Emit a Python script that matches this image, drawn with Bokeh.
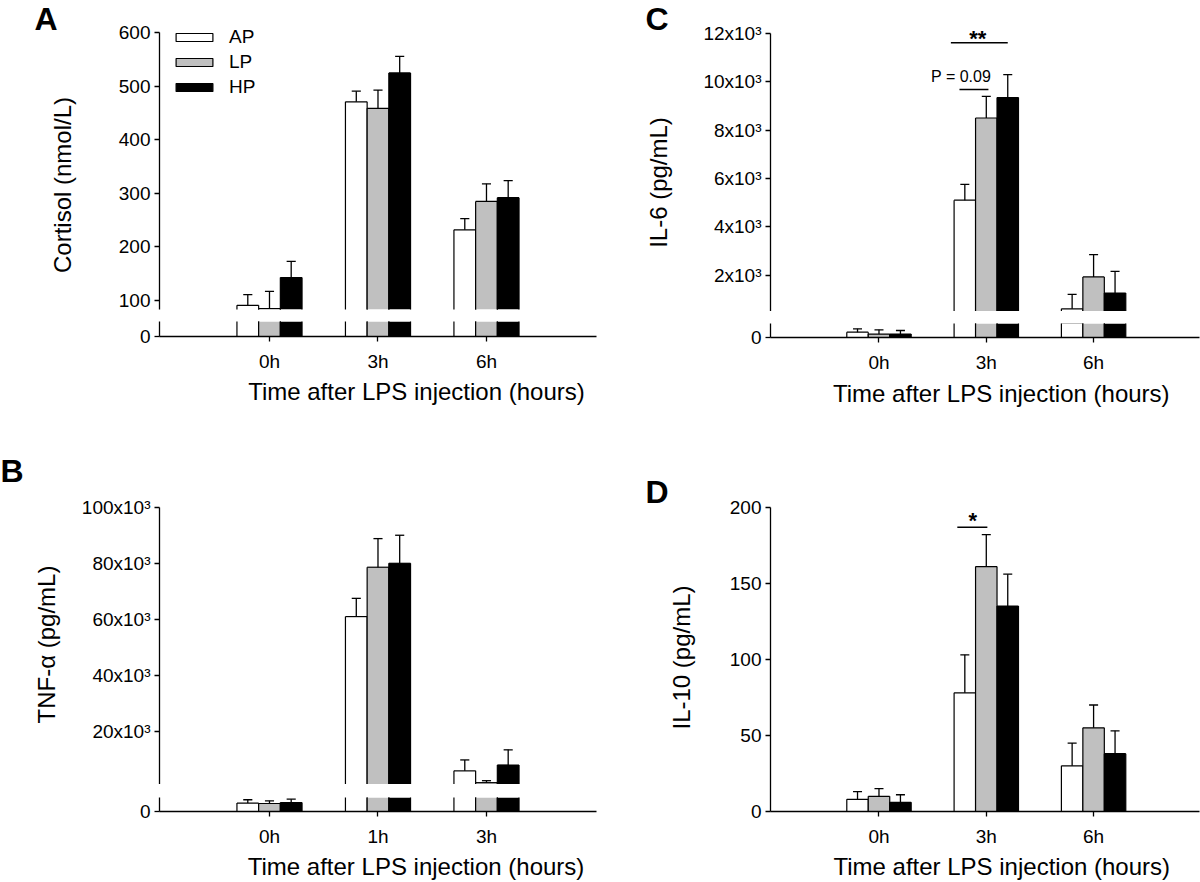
import math
from bokeh.plotting import figure
from bokeh.layouts import row, column
from bokeh.models import Range1d, FixedTicker, Legend, LegendItem, Spacer
from bokeh.core.properties import value
from bokeh.embed import file_html
from bokeh.resources import INLINE

FONT = "Liberation Sans"

# ---------------- data ----------------
groups = ["AP", "LP", "HP"]
group_colors = ["#ffffff", "#c0c0c0", "#000000"]
group_offsets = [-0.2, 0.0, 0.2]
cat_pos = [1, 2, 3]

# Panel A: Cortisol (nmol/L)
a_times = ["0h", "3h", "6h"]
a_ap = [91, 471, 232]
a_ap_err = [20, 20, 21]
a_lp = [85, 459, 285]
a_lp_err = [32, 34, 33]
a_hp = [143, 525, 292]
a_hp_err = [30, 31, 32]
a_yticks = [100, 200, 300, 400, 500, 600]

# Panel B: TNF-alpha (pg/mL)
b_times = ["0h", "1h", "3h"]
b_ap = [600, 61000, 6000]
b_ap_err = [240, 6500, 3900]
b_lp = [570, 78600, 1800]
b_lp_err = [190, 10200, 700]
b_hp = [640, 80000, 8100]
b_hp_err = [240, 10000, 5400]
b_yticks = [20000, 40000, 60000, 80000, 100000]
b_ylabels = ["20x10³", "40x10³", "60x10³", "80x10³", "100x10³"]

# Panel C: IL-6 (pg/mL)
c_times = ["0h", "3h", "6h"]
c_ap = [220, 5100, 600]
c_ap_err = [140, 650, 600]
c_lp = [140, 8500, 1920]
c_lp_err = [180, 900, 920]
c_hp = [140, 9350, 1250]
c_hp_err = [150, 950, 900]
c_yticks = [2000, 4000, 6000, 8000, 10000, 12000]
c_ylabels = ["2x10³", "4x10³", "6x10³", "8x10³", "10x10³", "12x10³"]

# Panel D: IL-10 (pg/mL)
d_times = ["0h", "3h", "6h"]
d_ap = [8, 78, 30]
d_ap_err = [5, 25, 15]
d_lp = [10, 161, 55]
d_lp_err = [5, 21, 15]
d_hp = [6, 135, 38]
d_hp_err = [5, 21, 15]
d_yticks = [0, 50, 100, 150, 200]

# significance annotations (data units)
c_sig2_x = [1.67, 2.20]
c_sig2_y = 11615
c_sig2_text = ("**", 1.92, 11781)
c_p_x = [1.75, 2.02]
c_p_y = 9681
c_p_text = ("P = 0.09", 1.765, 10203)
d_sig_x = [1.73, 2.01]
d_sig_y = 186.8
d_sig_text = ("*", 1.875, 191.0)

CAP = 0.042
BAR_W = 0.2


def style_axis(ax):
    ax.axis_line_width = 1.3
    ax.axis_line_color = "black"
    ax.major_tick_line_width = 1.3
    ax.major_tick_line_color = "black"
    ax.major_tick_out = 5
    ax.major_tick_in = 0
    ax.minor_tick_out = 0
    ax.minor_tick_in = 0
    ax.major_label_text_font = FONT
    ax.major_label_text_font_size = "19px"
    ax.major_label_text_color = "black"


def make_fig(width, height, xr, yr, borders, with_xaxis, yticks, ylabels=None,
             xlabels=None, ybounds=None):
    l, r, t, b = borders
    p = figure(width=width, height=height, x_range=xr, y_range=yr,
               output_backend="svg", toolbar_location=None,
               x_axis_location="below" if with_xaxis else None,
               min_border_left=l, min_border_right=r, min_border_top=t, min_border_bottom=b)
    p.outline_line_color = None
    for g in p.grid:
        g.visible = False
    p.background_fill_color = "white"
    p.border_fill_color = "white"
    ya = p.yaxis[0]
    ya.ticker = FixedTicker(ticks=yticks)
    if ylabels:
        ya.major_label_overrides = {tk: s for tk, s in zip(yticks, ylabels)}
    if ybounds is not None:
        ya.bounds = ybounds
    style_axis(ya)
    ya.major_label_standoff = 4
    if with_xaxis:
        xa = p.xaxis[0]
        xa.ticker = FixedTicker(ticks=cat_pos)
        xa.major_label_overrides = {tk: s for tk, s in zip(cat_pos, xlabels)}
        style_axis(xa)
        xa.major_label_standoff = 9
    return p


def text_fig(width, height):
    p = figure(width=width, height=height, x_range=Range1d(0, width), y_range=Range1d(height, 0),
               output_backend="svg", toolbar_location=None,
               x_axis_location=None, y_axis_location=None,
               min_border_left=0, min_border_right=0, min_border_top=0, min_border_bottom=0)
    p.outline_line_color = None
    for g in p.grid:
        g.visible = False
    p.background_fill_color = "white"
    p.border_fill_color = "white"
    return p


def put_text(p, text, x, y, size, bold=False, angle=0.0, align="left"):
    p.text(x=[x], y=[y], text=[text], text_font=value(FONT), text_font_size=size,
           text_font_style="bold" if bold else "normal", angle=angle,
           text_align=align, text_baseline="alphabetic", text_color="black")


def draw_bars(p, means, errs):
    for col, off, m, e in zip(group_colors, group_offsets, means, errs):
        xs = [c + off for c in cat_pos]
        tops = [mi + ei for mi, ei in zip(m, e)]
        zeros = [0 for _ in xs]
        left = [x - BAR_W / 2 for x in xs]
        right = [x + BAR_W / 2 for x in xs]
        p.vbar(x=xs, top=m, bottom=0, width=BAR_W, fill_color=col, line_color=None)
        # bar outlines (left, right, top)
        p.segment(x0=left, y0=zeros, x1=left, y1=m, line_color="black", line_width=1.2)
        p.segment(x0=right, y0=zeros, x1=right, y1=m, line_color="black", line_width=1.2)
        p.segment(x0=left, y0=m, x1=right, y1=m, line_color="black", line_width=1.2)
        # error bars (upper only)
        p.segment(x0=xs, y0=m, x1=xs, y1=tops, line_color="black", line_width=1.3)
        p.segment(x0=[x - CAP for x in xs], y0=tops, x1=[x + CAP for x in xs], y1=tops,
                  line_color="black", line_width=1.3)


# ---------------- figures ----------------
xr_a = Range1d(-0.0138, 4.014)
xr_b = Range1d(-0.0138, 4.014)
xr_c = Range1d(-0.011, 3.987)
xr_d = Range1d(-0.011, 3.987)

LW, RW = 523, 500
A_up = make_fig(LW, 312, xr_a, Range1d(83.2, 660.3), (82, 4, 0, 3), False, a_yticks, ybounds=(0, 600))
A_lo = make_fig(LW, 54, xr_a, Range1d(0, 28), (82, 4, 0, 39), True, [0], xlabels=a_times)
A_xt = text_fig(LW, 45)
B_up = make_fig(LW, 364, xr_b, Range1d(1141, 130909), (82, 4, 0, 0), False, b_yticks, b_ylabels,
                ybounds=(0, 100000))
B_lo = make_fig(LW, 52, xr_b, Range1d(0, 1000), (82, 4, 0, 38), True, [0], xlabels=b_times)
B_xt = text_fig(LW, 33)

C_up = make_fig(RW, 311, xr_c, Range1d(489, 13366), (64, 1, 0, 0), False, c_yticks, c_ylabels,
                ybounds=(0, 12000))
C_lo = make_fig(RW, 52, xr_c, Range1d(0, 580), (64, 1, 0, 38), True, [0], xlabels=c_times)
C_xt = text_fig(RW, 45)
D_f = make_fig(RW, 429, xr_d, Range1d(0, 257), (64, 1, 0, 38), True, d_yticks, xlabels=d_times,
               ybounds=(0, 200))
D_xt = text_fig(RW, 33)

strip_L = text_fig(77, 882)
strip_R = text_fig(100, 882)

a_means, a_errs = [a_ap, a_lp, a_hp], [a_ap_err, a_lp_err, a_hp_err]
b_means, b_errs = [b_ap, b_lp, b_hp], [b_ap_err, b_lp_err, b_hp_err]
c_means, c_errs = [c_ap, c_lp, c_hp], [c_ap_err, c_lp_err, c_hp_err]
d_means, d_errs = [d_ap, d_lp, d_hp], [d_ap_err, d_lp_err, d_hp_err]

draw_bars(A_up, a_means, a_errs)
draw_bars(A_lo, a_means, a_errs)
draw_bars(B_up, b_means, b_errs)
draw_bars(B_lo, b_means, b_errs)
draw_bars(C_up, c_means, c_errs)
draw_bars(C_lo, c_means, c_errs)
draw_bars(D_f, d_means, d_errs)

# legend in panel A: hidden renderers of the same bars carry the legend styling
leg_rs = [A_up.vbar(x=[c + off for c in cat_pos], top=m, width=BAR_W, fill_color=col,
                    line_color="black", line_width=1.2, visible=False)
          for col, off, m in zip(group_colors, group_offsets, a_means)]
legend = Legend(items=[LegendItem(label=g, renderers=[r]) for g, r in zip(groups, leg_rs)],
                location=(12, 210), orientation="vertical",
                glyph_width=46, glyph_height=10, label_height=25, spacing=0,
                padding=0, margin=0, label_standoff=12,
                border_line_color=None, background_fill_alpha=0,
                inactive_fill_alpha=0,
                label_text_font=FONT, label_text_font_size="19px", label_text_color="black")
A_up.add_layout(legend)

# significance marks
C_up.segment(x0=[c_sig2_x[0]], y0=[c_sig2_y], x1=[c_sig2_x[1]], y1=[c_sig2_y],
             line_color="black", line_width=1.5)
C_up.segment(x0=[c_p_x[0]], y0=[c_p_y], x1=[c_p_x[1]], y1=[c_p_y],
             line_color="black", line_width=1.5)
D_f.segment(x0=[d_sig_x[0]], y0=[d_sig_y], x1=[d_sig_x[1]], y1=[d_sig_y],
            line_color="black", line_width=1.5)
put_text(C_up, c_sig2_text[0], c_sig2_text[1], c_sig2_text[2], "22px", bold=True, align="center")
put_text(C_up, c_p_text[0], c_p_text[1], c_p_text[2], "16px", align="center")
put_text(D_f, d_sig_text[0], d_sig_text[1], d_sig_text[2], "22px", bold=True, align="center")

# panel letters and y-axis titles (strip pixel coordinates)
put_text(strip_L, "A", 34, 18, "32px", bold=True)
put_text(strip_L, "B", 0, 470, "32px", bold=True)
put_text(strip_L, "Cortisol (nmol/L)", 61.6, 184.5, "24px", angle=math.pi / 2, align="center")
put_text(strip_L, "TNF-α (pg/mL)", 45.6, 644, "24px", angle=math.pi / 2, align="center")
put_text(strip_R, "C", 45, 18, "32px", bold=True)
put_text(strip_R, "D", 45, 491, "32px", bold=True)
put_text(strip_R, "IL-6 (pg/mL)", 57.6, 182, "24px", angle=math.pi / 2, align="center")
put_text(strip_R, "IL-10 (pg/mL)", 80.6, 657, "24px", angle=math.pi / 2, align="center")

# x-axis titles
xt = "Time after LPS injection (hours)"
put_text(A_xt, xt, 307.5, 15.6, "24px", align="center")
put_text(B_xt, xt, 307, 16.6, "24px", align="center")
put_text(C_xt, xt, 269, 17.6, "24px", align="center")
put_text(D_xt, xt, 269.5, 16.6, "24px", align="center")

col_L = column(A_up, Spacer(width=LW, height=9), A_lo, A_xt,
               B_up, Spacer(width=LW, height=13), B_lo, B_xt)
col_R = column(C_up, Spacer(width=RW, height=12), C_lo, C_xt, D_f, D_xt)
layout = row(strip_L, col_L, strip_R, col_R)

open("out.html", "w").write(file_html(layout, INLINE))
